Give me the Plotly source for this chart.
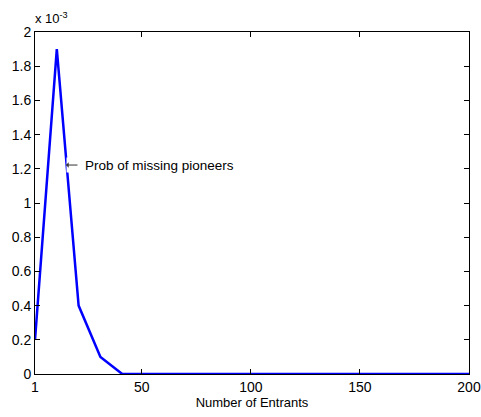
import plotly.graph_objects as go

entrants = [1, 11, 21, 31, 41, 51, 61, 71, 81, 91, 101, 111, 121, 131, 141, 151, 161, 171, 181, 191, 200]
prob_missing = [0.0002, 0.0019, 0.0004, 0.0001, 0, 0, 0, 0, 0, 0, 0, 0, 0, 0, 0, 0, 0, 0, 0, 0, 0]

ytick_vals = [0, 0.0002, 0.0004, 0.0006, 0.0008, 0.001, 0.0012, 0.0014, 0.0016, 0.0018, 0.002]
ytick_text = ["0", "0.2", "0.4", "0.6", "0.8", "1", "1.2", "1.4", "1.6", "1.8", "2"]
xtick_vals = [1, 50, 100, 150, 200]

FAM = "Liberation Sans, Arial, sans-serif"

fig = go.Figure()
fig.add_trace(go.Scatter(x=entrants, y=prob_missing, mode="lines",
                         line=dict(color="#0000ff", width=2.5), showlegend=False))

# small white gap where the label box overlaps the line
fig.add_annotation(x=15.2, y=0.001222, xref="x", yref="y", text="", showarrow=False,
                   xanchor="left", yanchor="middle", width=3, height=14,
                   bgcolor="white", borderpad=0)
# label text
fig.add_annotation(x=23.4, y=0.001222, xref="x", yref="y", text="Prob of missing pioneers",
                   showarrow=False, xanchor="left", yanchor="middle",
                   font=dict(family=FAM, size=13.5, color="black"), borderpad=0)
# leftward arrow
fig.add_annotation(x=15.2, y=0.001222, xref="x", yref="y", text="", showarrow=True,
                   ax=13, ay=0, arrowhead=1, arrowsize=0.9, arrowwidth=1,
                   arrowcolor="#333333", standoff=0, startstandoff=0)
fig.add_annotation(x=-0.005, y=1.0, xref="paper", yref="paper", yshift=4, text="x 10<sup>-3</sup>",
                   showarrow=False, xanchor="left", yanchor="bottom",
                   font=dict(family=FAM, size=13, color="black"))

fig.update_layout(
    width=481, height=417,
    margin=dict(l=35, r=12, t=32, b=43, autoexpand=False),
    paper_bgcolor="white", plot_bgcolor="white",
    font=dict(family=FAM, size=13, color="black"),
    xaxis=dict(range=[1, 200], tickvals=xtick_vals, ticks="inside", ticklen=5, tickcolor="black",
               tickfont=dict(family=FAM, size=14, color="black"), automargin=False,
               showline=True, linecolor="black", linewidth=1, mirror="ticks", showgrid=False,
               zeroline=False,
               title=dict(text="Number of Entrants", standoff=2,
                          font=dict(family=FAM, size=13, color="black"))),
    yaxis=dict(range=[0, 0.002], tickvals=ytick_vals, ticktext=ytick_text, ticks="inside",
               tickfont=dict(family=FAM, size=14, color="black"), automargin=False,
               ticklen=5, tickcolor="black", showline=True, linecolor="black", linewidth=1,
               mirror="ticks", showgrid=False, zeroline=False),
)

fig.write_html("out.html", config={"displayModeBar": False},
               post_script="document.body.style.margin='0px';")
